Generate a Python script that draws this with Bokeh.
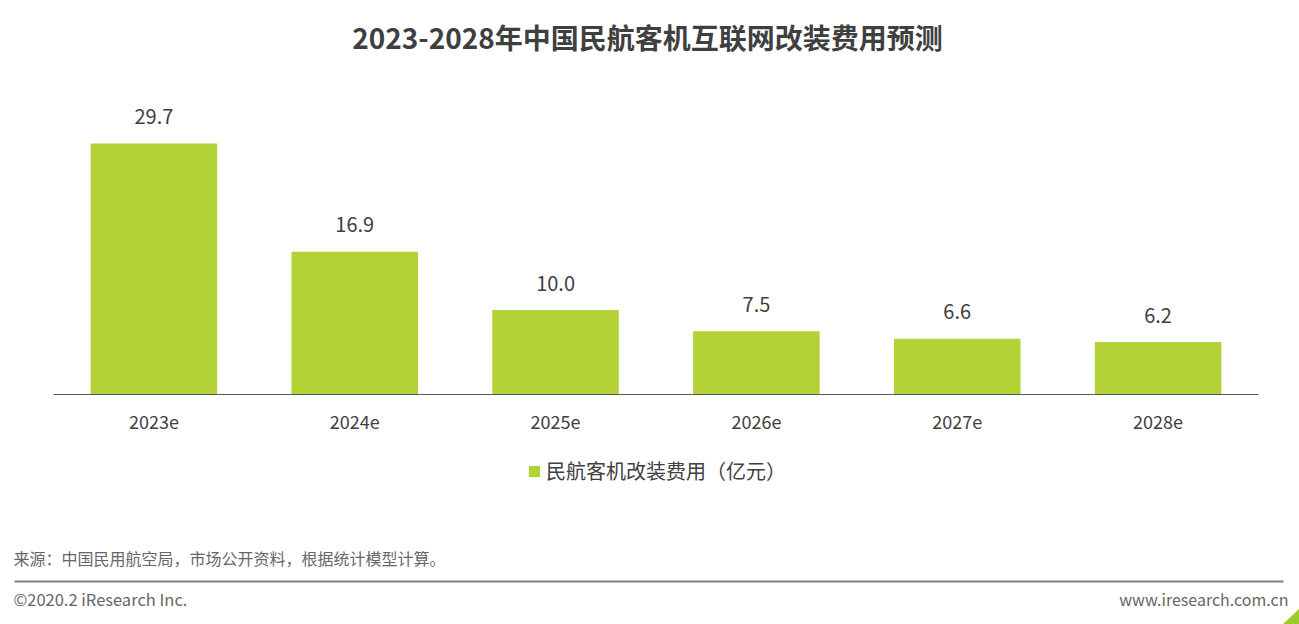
import numpy as np
from bokeh.plotting import figure
from bokeh.models import ColumnDataSource, Legend, LegendItem, Range1d
from bokeh.core.properties import value
from bokeh.embed import file_html
from bokeh.resources import INLINE

years = ["2023e", "2024e", "2025e", "2026e", "2027e", "2028e"]
costs = [29.7, 16.9, 10.0, 7.5, 6.6, 6.2]
labels = ["29.7", "16.9", "10.0", "7.5", "6.6", "6.2"]
series_name = "民航客机改装费用（亿元）"
title_text = "2023-2028年中国民航客机互联网改装费用预测"
source_text = "来源：中国民用航空局，市场公开资料，根据统计模型计算。"
copyright_text = "©2020.2 iResearch Inc."
site_text = "www.iresearch.com.cn"

GREEN = "#b2d235"
TXT = "#404040"
FOOT = "#666666"
CJK = value("Noto Sans CJK SC")

W, H = 1299, 624
LEFT, BASE = 53, 394          # page pixel of category axis start / baseline
K = 8.45                      # pixels per unit (value axis)
S = 200.83                    # pixels per category


def px_x(px):
    return (px - LEFT) / S


def px_y(py):
    return (BASE - py) / K


pos = np.arange(len(years)) + 0.5
src = ColumnDataSource(dict(pos=pos, year=years, cost=costs, label=labels))

p = figure(width=W, height=H, output_backend="svg", toolbar_location=None,
           x_range=Range1d(px_x(0), px_x(W)), y_range=Range1d(px_y(H), px_y(0)),
           min_border=0, x_axis_type=None, y_axis_type=None)
p.outline_line_color = None
p.xgrid.grid_line_color = None
p.ygrid.grid_line_color = None
p.background_fill_color = "white"
p.border_fill_color = "white"

r = p.vbar(x="pos", top="cost", width=0.63, source=src,
           fill_color=GREEN, line_color=None)

# baseline (category axis line)
p.segment(x0=[0], y0=[0], x1=[len(years)], y1=[0], line_color="#595959", line_width=1)

# category labels
p.text(x="pos", y=0, text="year", source=src, y_offset=27,
       text_align="center", text_baseline="middle",
       text_font=CJK, text_font_size="18px", text_color=TXT)

# value labels
p.text(x="pos", y="cost", text="label", source=src, y_offset=-27,
       text_align="center", text_baseline="middle",
       text_font=CJK, text_font_size="20px", text_color=TXT)

# title
p.text(x=[px_x(647)], y=[px_y(36)], text=[title_text],
       text_align="center", text_baseline="middle",
       text_font=CJK, text_font_style="bold", text_font_size="28px",
       text_color="#3f3f3f")

legend = Legend(items=[LegendItem(label=series_name, renderers=[r])],
                location=(527, 624 - 464 - 21), orientation="horizontal",
                glyph_width=14, glyph_height=14, label_standoff=5,
                label_height=14, padding=0, margin=0, border_line_color=None,
                background_fill_alpha=0,
                label_text_font="Noto Sans CJK SC", label_text_font_size="20px",
                label_text_color=TXT)
p.add_layout(legend, "center")

# footer
p.text(x=[px_x(13)], y=[px_y(557)], text=[source_text],
       text_align="left", text_baseline="middle",
       text_font=CJK, text_font_size="16px", text_color=FOOT)
p.segment(x0=[px_x(14)], y0=[px_y(581)], x1=[px_x(1283)], y1=[px_y(581)],
          line_color="#7f7f7f", line_width=2)
p.text(x=[px_x(13)], y=[px_y(598)], text=[copyright_text],
       text_align="left", text_baseline="middle",
       text_font=CJK, text_font_size="16.5px", text_color=FOOT)
p.text(x=[px_x(1288)], y=[px_y(598)], text=[site_text],
       text_align="right", text_baseline="middle",
       text_font=CJK, text_font_size="16px", text_color=FOOT)
p.patch(x=[px_x(1282), px_x(1299), px_x(1299)], y=[px_y(624), px_y(608), px_y(624)],
        fill_color="#9ccb2a", line_color=None)

open("out.html", "w").write(file_html(p, INLINE))
